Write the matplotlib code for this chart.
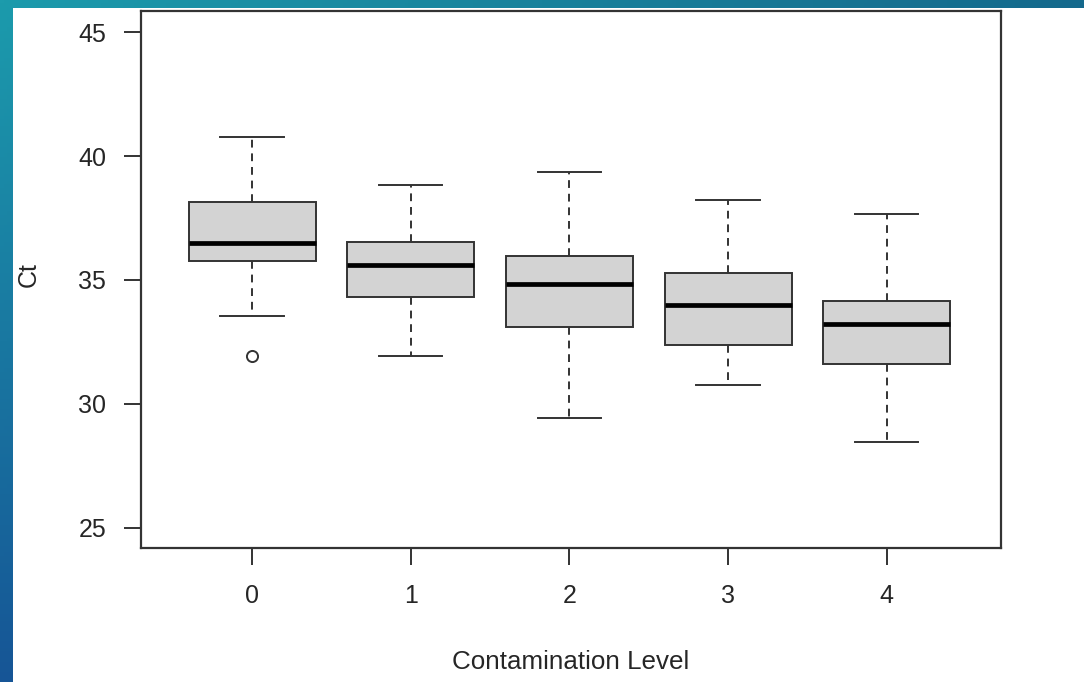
import numpy as np
import matplotlib
matplotlib.use("Agg")
import matplotlib.pyplot as plt
from matplotlib.patches import Rectangle

plt.rcParams['font.family'] = ['Liberation Sans', 'DejaVu Sans']

categories = ["0", "1", "2", "3", "4"]
whisker_low = [33.55, 31.94, 29.44, 30.77, 28.47]
q1 = [35.77, 34.31, 33.10, 32.38, 31.61]
medians = [36.49, 35.60, 34.84, 33.99, 33.23]
q3 = [38.15, 36.53, 35.97, 35.28, 34.15]
whisker_high = [40.77, 38.83, 39.35, 38.23, 37.66]
outliers = [[31.94], [], [], [], []]
y_ticks = [25, 30, 35, 40, 45]

W, H = 1084, 682
fig = plt.figure(figsize=(W / 100, H / 100), dpi=100)

# background gradient
bg = fig.add_axes([0, 0, 1, 1], zorder=-10)
yy, xx = np.mgrid[0:1:200j, 0:1:300j]
top_left = np.array([28, 155, 172]) / 255
bot_left = np.array([22, 85, 150]) / 255
top_right = np.array([20, 105, 140]) / 255
t = yy[..., None]
s = xx[..., None]
img = top_left * (1 - t) * (1 - s) + bot_left * t * (1 - s) + top_right * (1 - t) * s + bot_left * t * s
bg.imshow(img, aspect='auto', extent=[0, 1, 0, 1], origin='upper')
bg.add_patch(Rectangle((13 / W, 0), 1 - 13 / W, 1 - 8 / H, facecolor='white', edgecolor='none', zorder=2))
bg.set_xlim(0, 1)
bg.set_ylim(0, 1)
bg.axis('off')

ax = fig.add_axes([141 / W, 1 - 548 / H, (1001 - 141) / W, (548 - 11) / H])
ax.set_facecolor('white')

stats = []
for i in range(len(categories)):
    stats.append(dict(med=medians[i], q1=q1[i], q3=q3[i], whislo=whisker_low[i],
                      whishi=whisker_high[i], fliers=outliers[i], label=categories[i]))

lc = '#333333'
tc = '#262626'
ax.bxp(stats, positions=range(len(categories)), widths=0.8, patch_artist=True,
       boxprops=dict(facecolor='#d3d3d3', edgecolor=lc, linewidth=1.4),
       medianprops=dict(color='black', linewidth=3.4),
       whiskerprops=dict(color=lc, linewidth=1.4, linestyle=(0, (4, 3))),
       capprops=dict(color=lc, linewidth=1.4),
       capwidths=0.4,
       flierprops=dict(marker='o', markerfacecolor='none', markeredgecolor=lc, markersize=8, markeredgewidth=1.4))

ax.set_xlim(-0.7, 4.72)
ax.set_ylim(24.19, 45.85)
ax.set_yticks(y_ticks)
ax.set_yticklabels([str(v) for v in y_ticks])
ax.set_xticks(range(len(categories)))
ax.set_xticklabels(categories)
for sp in ax.spines.values():
    sp.set_color(lc)
    sp.set_linewidth(1.6)
ax.tick_params(axis='both', length=12, width=1.4, color=lc, labelsize=18, labelcolor=tc)
ax.tick_params(axis='x', pad=14)
ax.tick_params(axis='y', pad=13)

fig.text(571 / W, 1 - 662 / H, "Contamination Level", ha='center', va='center', fontsize=18.7, color=tc)
fig.text(29 / W, 1 - 275 / H, "Ct", ha='center', va='center', rotation=90, fontsize=18, color=tc)

fig.savefig("out.png", dpi=100)
